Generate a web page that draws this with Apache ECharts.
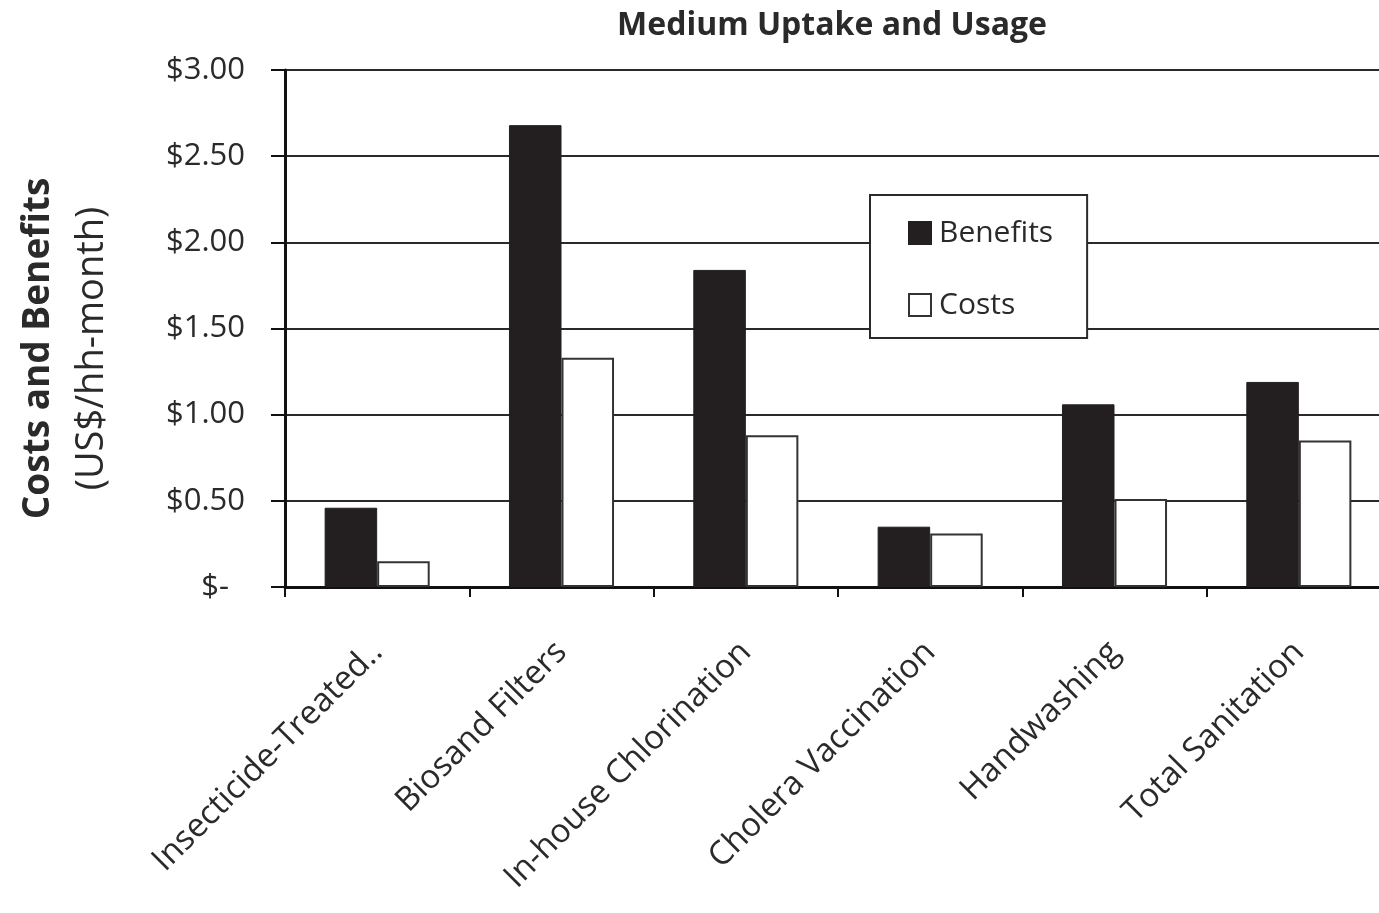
<!DOCTYPE html>
<html>
<head>
<meta charset="utf-8">
<script src="https://cdn.jsdelivr.net/npm/echarts@6/dist/echarts.min.js"></script>
<style>
  html, body { margin: 0; padding: 0; background: #fff; }
  #chart { width: 1379px; height: 913px; }
</style>
</head>
<body>
<div id="chart"></div>
<script>
// Interventions compared, in US$ per household-month
const categories = ['Insecticide-Treated..', 'Biosand Filters', 'In-house Chlorination', 'Cholera Vaccination', 'Handwashing', 'Total Sanitation'];
const benefits = [0.46, 2.68, 1.84, 0.35, 1.06, 1.19];
const costs = [0.15, 1.33, 0.88, 0.31, 0.51, 0.85];
const yTicks = [0, 0.5, 1, 1.5, 2, 2.5, 3];

const FONT = '"Open Sans", Lato, sans-serif';
const TEXT = '#2a2a2a';

const chart = echarts.init(document.getElementById('chart'), null, { renderer: 'canvas' });

chart.setOption({
  backgroundColor: '#ffffff',
  animation: false,
  title: {
    text: 'Medium Uptake and Usage',
    left: 827,
    textAlign: 'center',
    top: 5,
    textStyle: { fontFamily: FONT, fontSize: 32, fontWeight: 'bold', color: TEXT }
  },
  legend: {
    orient: 'vertical',
    left: 870,
    top: 195,
    padding: [23, 34, 18, 38],
    itemGap: 42,
    itemWidth: 22,
    itemHeight: 22,
    icon: 'rect',
    backgroundColor: '#ffffff',
    borderColor: '#2a2a2a',
    borderWidth: 2,
    textStyle: { fontFamily: FONT, fontSize: 30, lineHeight: 30, color: TEXT, padding: [0, 0, 0, 3] },
    data: ['Benefits', 'Costs']
  },
  grid: {
    left: 285,
    top: 70,
    width: 1106,
    height: 517,
    containLabel: false,
    outerBoundsMode: 'none'
  },
  xAxis: {
    type: 'category',
    data: categories,
    axisLine: { lineStyle: { color: '#111', width: 3 } },
    axisTick: { show: true, length: 10, lineStyle: { color: '#111', width: 2 } },
    axisLabel: {
      rotate: 45,
      margin: 60,
      interval: 0,
      fontFamily: FONT,
      fontSize: 33,
      color: TEXT
    }
  },
  yAxis: {
    type: 'value',
    min: yTicks[0],
    max: yTicks[yTicks.length - 1],
    interval: 0.5,
    name: '{b|Costs and Benefits}\n{n|(US$/hh-month)}',
    nameLocation: 'middle',
    nameRotate: 90,
    nameGap: 166,
    nameTextStyle: {
      lineHeight: 54,
      padding: [0, 40, 0, 0],
      rich: {
        b: { fontFamily: FONT, fontSize: 37, fontWeight: 'bold', color: TEXT, lineHeight: 54 },
        n: { fontFamily: FONT, fontSize: 38, color: TEXT, lineHeight: 54 }
      }
    },
    axisLine: { show: true, lineStyle: { color: '#111', width: 3 } },
    axisTick: { show: true, length: 14, lineStyle: { color: '#111', width: 2 } },
    splitLine: { show: true, lineStyle: { color: '#2a2a2a', width: 2 } },
    axisLabel: {
      margin: 40,
      fontFamily: FONT,
      fontSize: 31,
      color: TEXT,
      formatter: function (v) {
        return v === 0 ? '$-  ' : '$' + v.toFixed(2);
      }
    }
  },
  series: [
    {
      name: 'Benefits',
      type: 'bar',
      data: benefits,
      barGap: '0%',
      barCategoryGap: '43%',
      itemStyle: { color: '#231f20', borderColor: '#231f20', borderWidth: 1 }
    },
    {
      name: 'Costs',
      type: 'bar',
      data: costs,
      barGap: '0%',
      barCategoryGap: '43%',
      itemStyle: { color: '#ffffff', borderColor: '#333', borderWidth: 2 }
    }
  ]
});
</script>
</body>
</html>
